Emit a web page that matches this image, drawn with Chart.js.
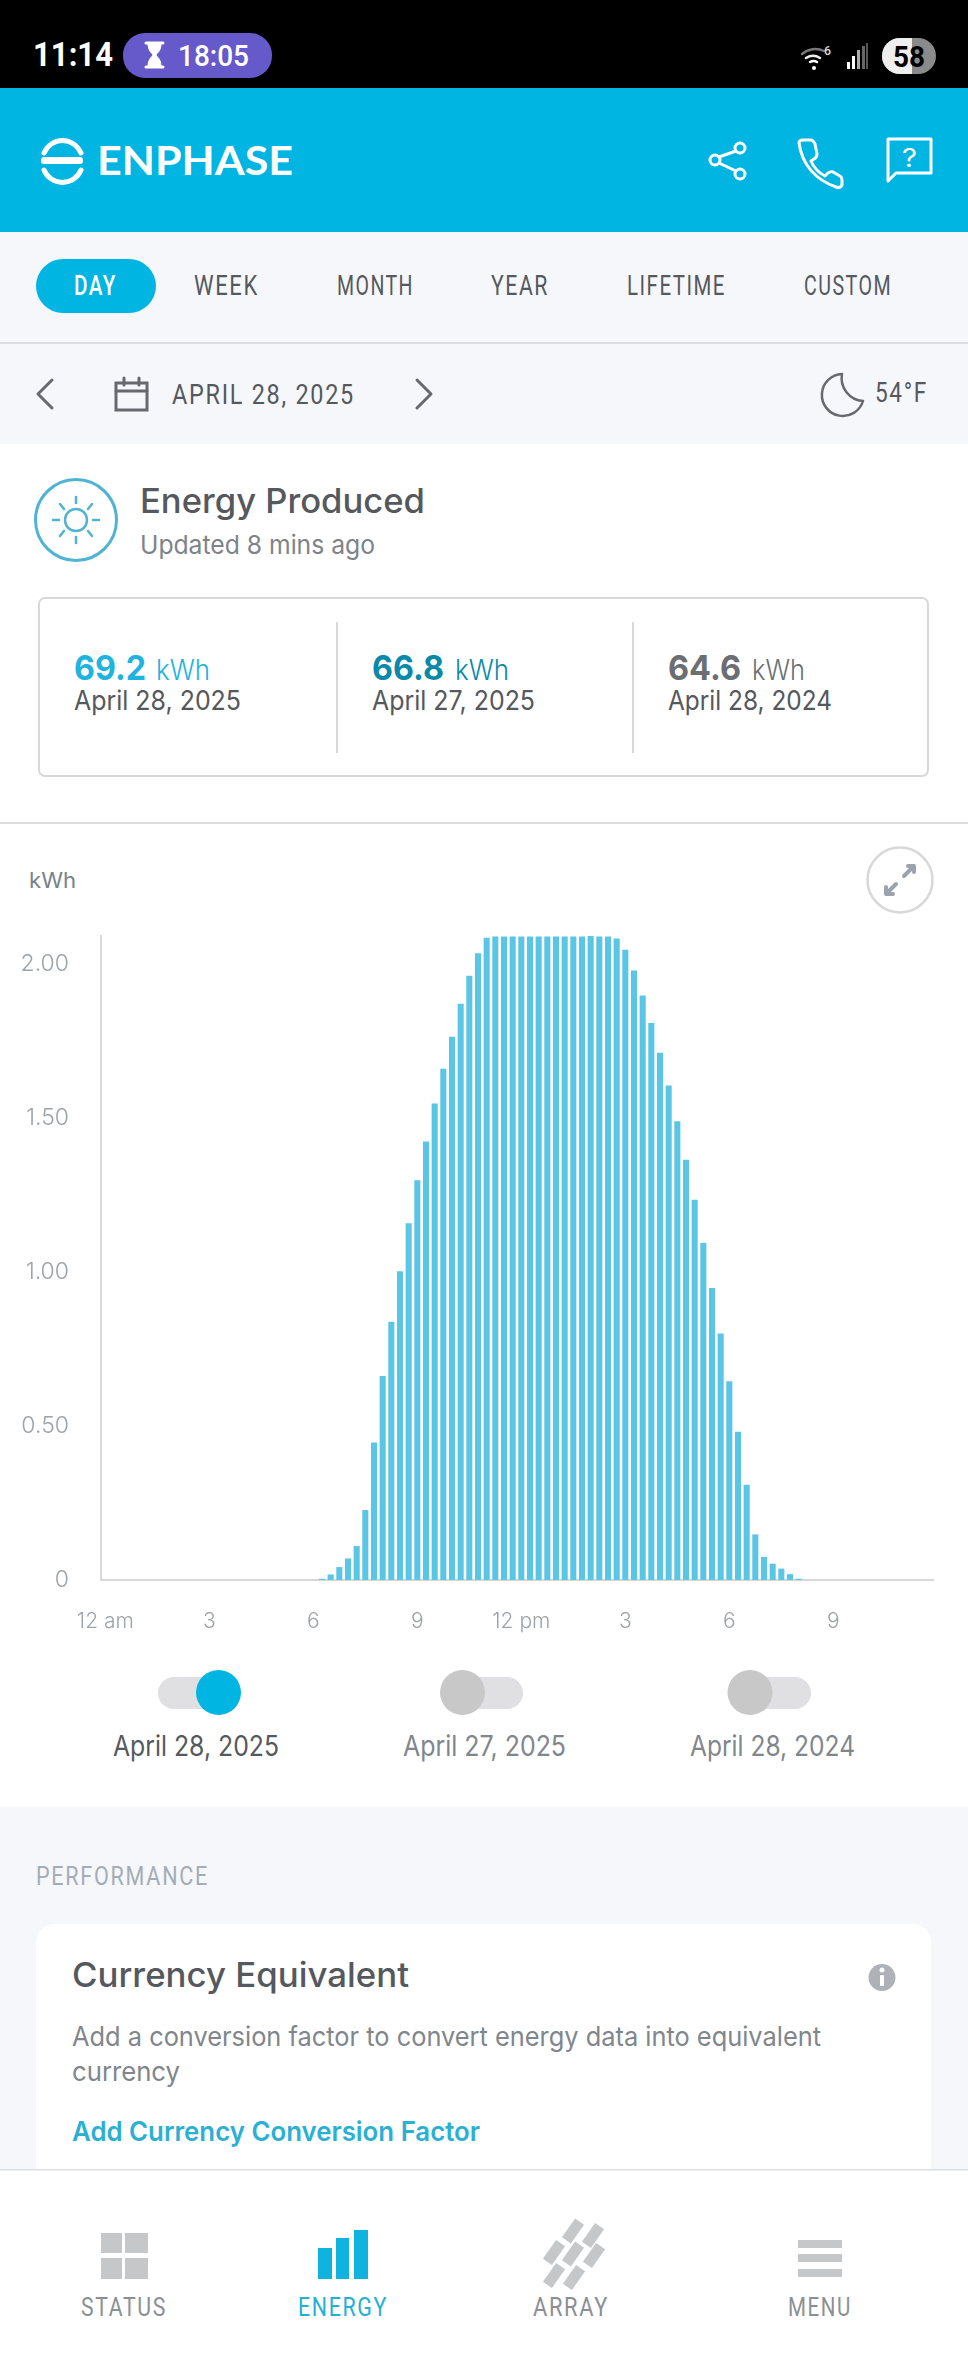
<!DOCTYPE html>
<html>
<head>
<meta charset="utf-8">
<style>
html,body{margin:0;padding:0;background:#fff;width:968px;height:2376px;overflow:hidden}
#stage{position:relative;width:968px;height:2376px}
#art,#top{position:absolute;left:0;top:0}
#wrap{position:absolute;left:0;top:920px;width:968px;height:740px}
</style>
<script src="https://cdn.jsdelivr.net/npm/chart.js@4/dist/chart.umd.min.js"></script>
</head>
<body>
<div id="stage">
<svg id="art" width="968" height="2376" viewBox="0 0 968 2376" xmlns="http://www.w3.org/2000/svg"></svg>
<div id="wrap"><canvas id="c" width="968" height="740"></canvas></div>
</div>
<script>
// ---- chart data (one value per 15 minutes, kWh) ----
const offHoursBefore = [0,0,0,0,0,0,0,0,0,0,0,0,0,0,0,0,0,0,0,0,0,0,0,0,0];
const dayValues = [0.004,0.018,0.042,0.070,0.110,0.227,0.446,0.662,0.838,1.002,1.158,1.297,1.423,1.546,1.659,1.763,1.870,1.961,2.034,2.084,2.088,2.088,2.088,2.088,2.088,2.088,2.088,2.088,2.088,2.088,2.088,2.090,2.088,2.088,2.082,2.045,1.978,1.897,1.808,1.711,1.605,1.489,1.364,1.234,1.094,0.948,0.800,0.645,0.481,0.309,0.148,0.075,0.053,0.037,0.019,0.004];
const offHoursAfter = [0,0,0,0,0,0,0,0,0,0,0,0,0,0,0];
const hourTickLabels = ['12 am','3','6','9','12 pm','3','6','9'];
const valueTicks = [0,0.5,1,1.5,2];
const seriesName = 'April 28, 2025';

const values = offHoursBefore.concat(dayValues, offHoursAfter);
const categories = values.map((_, i) => i % 12 === 0 ? hourTickLabels[i / 12] : '');

// ---- page chrome ----
const svgNS = 'http://www.w3.org/2000/svg';
const art = document.getElementById('art');
function el(name, attrs, text){
  const n = document.createElementNS(svgNS, name);
  for (const k in attrs) n.setAttribute(k, attrs[k]);
  if (text !== undefined) n.textContent = text;
  art.appendChild(n);
  return n;
}
function rect(x,y,w,h,fill,r){ return el('rect',{x,y,width:w,height:h,fill,rx:r||0,ry:r||0}); }
function line(x1,y1,x2,y2,stroke,sw){ return el('line',{x1,y1,x2,y2,stroke,'stroke-width':sw||2,'stroke-linecap':'round'}); }
function path(d,stroke,sw,fill){ return el('path',{d,stroke:stroke||'none','stroke-width':sw||0,fill:fill||'none','stroke-linecap':'round','stroke-linejoin':'round'}); }
function circle(cx,cy,r,stroke,sw,fill){ return el('circle',{cx,cy,r,stroke:stroke||'none','stroke-width':sw||0,fill:fill||'none'}); }
function txt(s,x0,x1,base,size,weight,color,family,spacing){
  const a = {x:x0,y:base,'font-size':size,'font-weight':weight,fill:color,'font-family':family||'Inter',
    textLength:x1-x0,lengthAdjust:'spacingAndGlyphs'};
  if (spacing) a['letter-spacing'] = spacing;
  return el('text',a,s);
}
const COND = 'Roboto', LS = 2;
const DARK = '#55585d', MID = '#80868c', CYAN = '#00b5e2';

// backgrounds
rect(0,0,968,88,'#000');
rect(0,88,968,144,CYAN);
rect(0,232,968,212,'#f5f7fb');
rect(0,342,968,2,'#dcdee3');
rect(0,822,968,2,'#dcdcdc');
rect(0,1807,968,363,'#f5f7fb');
rect(36,1924,895,290,'#fff',18);
rect(0,2169,968,207,'#fff');
rect(0,2169,968,1.5,'#dcdee3');

// status bar
txt('11:14',33,113,66,33,700,'#fff',COND);
rect(123,33,149,45,'#6659c9',22);
path('M146 43h17M146 67h17','#fff',3);
path('M148 44h13c0 7-4 9-5 11 1 2 5 4 5 11h-13c0-7 4-9 5-11-1-2-5-4-5-11z','#fff',1,'#fff');
txt('18:05',178,249,66,30,500,'#fff',COND);
path('M802 54a20 20 0 0 1 22-3','#777',2.5);
path('M806 58a13 13 0 0 1 14 0','#eee',2.5);
path('M810 62a7 7 0 0 1 7 0','#fff',2.5);
circle(814,68,2,'',0,'#fff');
txt('6',824,831,55,13,500,'#ddd',COND);
rect(847,62,3,7,'#fff');rect(852,56,3,13,'#fff');rect(857,50,3,19,'#aaa');rect(862,46,3,23,'#666');rect(866,43,2,26,'#555');
rect(882,38,54,36,'#8a8a8a',18);
path('M912 38h-12a18 18 0 0 0 0 36h12z','',0,'#eee');
txt('58',893,925,67,30,700,'#000',COND);

// header logo + icons
path('M44 153a20 20 0 0 1 37 0','#fff',5);
path('M44 170a20 20 0 0 0 37 0','#fff',5);
rect(41,157,42,7,'#fff',3);
txt('ENPHASE',97,293,175,40,700,'#fff','Lato');
circle(740,148,5,'#fff',3);circle(715,160,5,'#fff',3);circle(740,174,5,'#fff',3);
line(719,157,736,151,'#fff',3);line(719,163,736,171,'#fff',3);
path('M799 143c0-2 2-3 4-3h8c2 0 3 2 4 4l2 10c0 2-1 4-3 5l-3 2c3 7 8 12 14 15l3-3c2-1 4-2 5-1l7 4c2 1 2 3 2 5v4c-1 2-3 3-6 2-20-7-34-22-37-44z','#fff',3);
path('M888 139h43v34h-35l-8 8z','#fff',3);
txt('?',902,917,167,26,400,'#fff','Inter');

// period tabs
rect(36,259,120,54,CYAN,27);
const tabFont = 27;
txt('DAY',74,117,295,tabFont,500,'#fff',COND,LS);
txt('WEEK',194,259,295,tabFont,400,DARK,COND,LS);
txt('MONTH',337,414,295,tabFont,400,DARK,COND,LS);
txt('YEAR',491,549,295,tabFont,400,DARK,COND,LS);
txt('LIFETIME',627,726,295,tabFont,400,DARK,COND,LS);
txt('CUSTOM',804,892,295,tabFont,400,DARK,COND,LS);

// date row
path('M52 380L38 394L52 408','#66696e',3);
path('M417 380L431 394L417 408','#66696e',3);
el('rect',{x:116,y:383,width:31,height:27,fill:'none',stroke:'#66696e','stroke-width':3});
line(116,391,147,391,'#66696e',3);line(124,378,124,385,'#66696e',3);line(139,378,139,385,'#66696e',3);
txt('APRIL 28, 2025',172,355,404,27,400,DARK,COND,LS);
path('M842 374A21 21 0 1 0 863 401A23 23 0 0 1 842 374Z','#66696e',2.5);
txt('54°F',875,928,402,27,400,DARK,COND,LS);

// energy summary
circle(76,520,40.5,'#4fb3d3',3);
circle(76,520,11,'#4fb3d3',2.5);
const rays = [[76,497,76,503],[76,537,76,543],[53,520,59,520],[93,520,99,520],[60,504,64,509],[92,504,88,509],[60,536,64,531],[92,536,88,531]];
rays.forEach(r => line(r[0],r[1],r[2],r[3],'#4fb3d3',2.5));
txt('Energy Produced',140,425,512.5,34,500,DARK);
txt('Updated 8 mins ago',140,375,553.5,26,400,'#7e8389');
el('rect',{x:39,y:598,width:889,height:178,rx:6,ry:6,fill:'#fff',stroke:'#d8d8d8','stroke-width':2});
rect(336,622,2,131,'#d8d8d8');rect(632,622,2,131,'#d8d8d8');
txt('69.2',74,146,679.5,34,700,'#1fb3de');
txt('kWh',156,210,679.5,28,300,'#1fb3de');
txt('April 28, 2025',74,241,710,27,400,DARK);
txt('66.8',372,444,679.5,34,700,'#0a8aa8');
txt('kWh',455,509,679.5,28,300,'#0a8aa8');
txt('April 27, 2025',372,535,710,27,400,DARK);
txt('64.6',668,741,679.5,34,700,'#6b6f74');
txt('kWh',752,805,679.5,28,300,'#6b6f74');
txt('April 28, 2024',668,832,710,27,400,DARK);

// chart header
txt('kWh',29,76,888,22,400,'#76828c');
circle(900,880,32.5,'#d8d8d8',2.5);
path('M904 876L913 867M908 866H914V872M896 884L887 893M886 887V894H893','#9ba3ad',4);

// toggles
rect(158,1677,68,32,'#e0e0e2',16);circle(218.5,1692.5,22.5,'',0,CYAN);
rect(455,1677,68,32,'#e0e0e2',16);circle(462.5,1692.5,22.5,'',0,'#c8c8c8');
rect(743,1677,68,32,'#e0e0e2',16);circle(750,1692.5,22.5,'',0,'#c8c8c8');
txt(seriesName,113,279,1755.5,28,400,DARK);
txt('April 27, 2025',403,566,1755.5,28,400,MID);
txt('April 28, 2024',690,855,1755.5,28,400,MID);

// performance card
txt('PERFORMANCE',36,209,1885,25,400,'#a4adb6',COND,LS);
txt('Currency Equivalent',72,409,1986.5,34,500,DARK);
circle(882,1977.5,13.5,'',0,'#aeb2b7');
rect(880,1975,4,11,'#fff',1);circle(882,1970,2.5,'',0,'#fff');
txt('Add a conversion factor to convert energy data into equivalent',72,821,2046,27,400,MID);
txt('currency',72,180,2081,27,400,MID);
txt('Add Currency Conversion Factor',72,480,2140.5,27,600,'#2bb0d4');

// bottom navigation
const NAVG = '#c6c7c9';
rect(101,2233,21,20,NAVG);rect(125,2233,23,20,NAVG);rect(101,2258,21,21,NAVG);rect(125,2258,23,21,NAVG);
rect(318,2248,14,31,'#0fb3de');rect(336,2238,13,41,'#0fb3de');rect(354,2230,14,49,'#0fb3de');
[[573,2231],[593,2235.5],[554,2252.5],[573,2254],[594,2255.5],[554,2275.5],[574,2277.5]].forEach(p =>
  el('rect',{x:p[0]-5.5,y:p[1]-11.5,width:11,height:23,fill:NAVG,transform:`rotate(35 ${p[0]} ${p[1]})`}));
rect(798,2240,44,8,NAVG);rect(798,2254,44,8,NAVG);rect(798,2269,44,8,NAVG);
txt('STATUS',81,167,2315.5,26,400,'#8b8f94',COND,LS);
txt('ENERGY',298,388,2315.5,26,400,'#22b0d6',COND,LS);
txt('ARRAY',533,609,2315.5,26,400,'#8b8f94',COND,LS);
txt('MENU',788,852,2315.5,26,400,'#8b8f94',COND,LS);

// ---- the chart ----
const AXIS = '#d8d8d8', TICK = '#9ea3a8';
new Chart(document.getElementById('c'), {
  type: 'bar',
  data: {
    labels: categories,
    datasets: [{
      label: seriesName,
      data: values,
      backgroundColor: '#5ac5e5',
      borderWidth: 0,
      barPercentage: 0.7,
      categoryPercentage: 1
    }]
  },
  options: {
    responsive: false,
    animation: false,
    devicePixelRatio: 1,
    layout: { padding: { top: 16, right: 35, bottom: 0, left: 0 } },
    plugins: { legend: { display: false }, tooltip: { enabled: false } },
    scales: {
      x: {
        grid: { display: false, drawTicks: false },
        border: { display: true, color: AXIS, width: 2 },
        afterFit: s => { s.height = 80; s.paddingLeft = 0; s.paddingRight = 0; },
        ticks: {
          autoSkip: false, maxRotation: 0, minRotation: 0, padding: 29,
          color: TICK,
          font: { family: 'Inter', size: 21, weight: '300' },
          callback(v) { return this.getLabelForValue(v); }
        }
      },
      y: {
        min: 0, max: 2.09,
        grid: { display: false, drawTicks: false },
        border: { display: true, color: AXIS, width: 2 },
        afterFit: s => { s.width = 101; s.paddingTop = 0; s.paddingBottom = 0; },
        afterBuildTicks: s => { s.ticks = valueTicks.map(v => ({ value: v })); },
        ticks: {
          padding: 32,
          color: TICK,
          font: { family: 'Inter', size: 23, weight: '300' },
          callback: v => v === 0 ? '0' : v.toFixed(2)
        }
      }
    }
  }
});
</script>
</body>
</html>
